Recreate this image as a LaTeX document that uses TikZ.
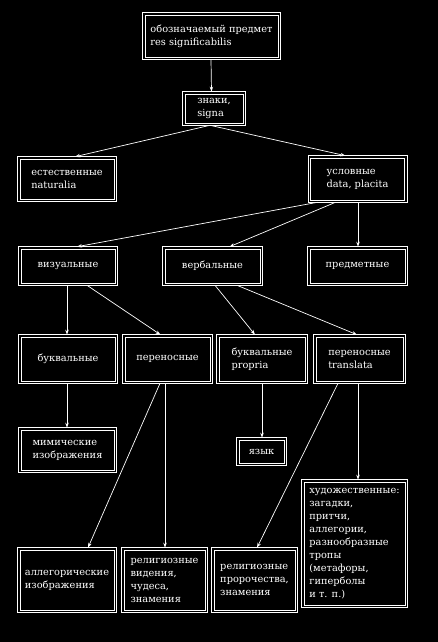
\documentclass[tikz,border=0pt]{standalone}
\usepackage{fontspec}
\setmainfont{DejaVu Serif}
\usetikzlibrary{arrows.meta}
\begin{document}
\begin{tikzpicture}[x=1pt,y=-1pt,
  box/.style={draw=white,line width=0.6pt,
    text=white,align=left,inner sep=3pt,font=\fontsize{9.8}{13}\selectfont},
  outerbox/.style={draw=white,line width=0.6pt},
  conn/.style={draw=white,line width=0.7pt,-{Stealth[open,length=5pt,width=3.5pt]}}]
\fill[black] (0,0) rectangle (438,642);
\useasboundingbox (0,0) rectangle (438,642);
% nodes
\node[box,minimum width=133pt,minimum height=42pt] (A) at (211.5,36) {обозначаемый предмет\\res significabilis};
\node[box,minimum width=58pt,minimum height=29pt] (B) at (214,108.5) {знаки,\\signa};
\node[box,minimum width=94pt,minimum height=40pt] (C) at (67,179) {естественные\\naturalia};
\node[box,minimum width=94pt,minimum height=42pt] (D) at (357.5,179) {условные\\data, placita};
\node[box,minimum width=94pt,minimum height=34pt] (E) at (68,266) {визуальные};
\node[box,minimum width=95pt,minimum height=34pt] (F) at (212.5,266) {вербальные};
\node[box,minimum width=95pt,minimum height=34pt] (G) at (357.5,266) {предметные};
\node[box,minimum width=94pt,minimum height=44pt] (H) at (68,359) {буквальные};
\node[box,minimum width=85pt,minimum height=44pt] (I) at (167.5,359) {переносные};
\node[box,minimum width=86pt,minimum height=44pt] (J) at (262,359) {буквальные\\propria};
\node[box,minimum width=87pt,minimum height=44pt] (K) at (359.5,359) {переносные\\translata};
\node[box,minimum width=93pt,minimum height=40pt] (L) at (67.5,450) {мимические\\изображения};
\node[box,minimum width=45pt,minimum height=23pt] (M) at (261.5,451.5) {язык};
\node[box,minimum width=101pt,minimum height=123pt] (N) at (354.5,543.5) {художественные:\\загадки,\\притчи,\\аллегории,\\разнообразные\\тропы\\(метафоры,\\гиперболы\\и т. п.)};
\node[box,minimum width=94pt,minimum height=60pt] (O) at (67,580) {аллегорические\\изображения};
\node[box,minimum width=81pt,minimum height=60pt] (P) at (164.5,580) {религиозные\\видения,\\чудеса,\\знамения};
\node[box,minimum width=81pt,minimum height=60pt] (Q) at (254.5,580) {религиозные\\пророчества,\\знамения};
% outer frames (double-line boxes)
\foreach \n in {A,B,C,D,E,F,G,H,I,J,K,L,M,N,O,P,Q}
  \draw[outerbox] ([shift={(-2pt,2pt)}]\n.north west) rectangle ([shift={(2pt,-2pt)}]\n.south east);
% connectors
\draw[conn] ([xshift=-0.5pt,yshift=-2pt]A.south) -- ([xshift=-2.5pt,yshift=2pt]B.north);
\draw[conn] ([xshift=-4pt,yshift=-2pt]B.south) -- ([xshift=8pt,yshift=2pt]C.north);
\draw[conn] ([xshift=-4pt,yshift=-2pt]B.south) -- ([xshift=-12pt,yshift=2pt]D.north);
\draw[conn] ([xshift=-40pt,yshift=-2pt]D.south) -- ([xshift=9pt,yshift=2pt]E.north);
\draw[conn] ([xshift=-22pt,yshift=-2pt]D.south) -- ([xshift=17pt,yshift=2pt]F.north);
\draw[conn] ([xshift=0.5pt,yshift=-2pt]D.south) -- ([xshift=0.5pt,yshift=2pt]G.north);
\draw[conn] ([xshift=-1pt,yshift=-2pt]E.south) -- ([xshift=-1pt,yshift=2pt]H.north);
\draw[conn] ([xshift=19pt,yshift=-2pt]E.south) -- ([xshift=-7pt,yshift=2pt]I.north);
\draw[conn] ([xshift=2.5pt,yshift=-2pt]F.south) -- ([xshift=-7pt,yshift=2pt]J.north);
\draw[conn] ([xshift=24.5pt,yshift=-2pt]F.south) -- ([xshift=-2.5pt,yshift=2pt]K.north);
\draw[conn] ([xshift=-1pt,yshift=-2pt]H.south) -- ([xshift=-0.5pt,yshift=2pt]L.north);
\draw[conn] ([xshift=-7.5pt,yshift=-2pt]I.south) -- ([xshift=21pt,yshift=2pt]O.north);
\draw[conn] ([xshift=-2.5pt,yshift=-2pt]I.south) -- ([xshift=0.5pt,yshift=2pt]P.north);
\draw[conn] ([yshift=-2pt]J.south) -- ([xshift=0.5pt,yshift=2pt]M.north);
\draw[conn] ([xshift=-21.5pt,yshift=-2pt]K.south) -- ([xshift=2.5pt,yshift=2pt]Q.north);
\draw[conn] ([xshift=-1.5pt,yshift=-2pt]K.south) -- ([xshift=3.5pt,yshift=2pt]N.north);
\end{tikzpicture}
\end{document}
